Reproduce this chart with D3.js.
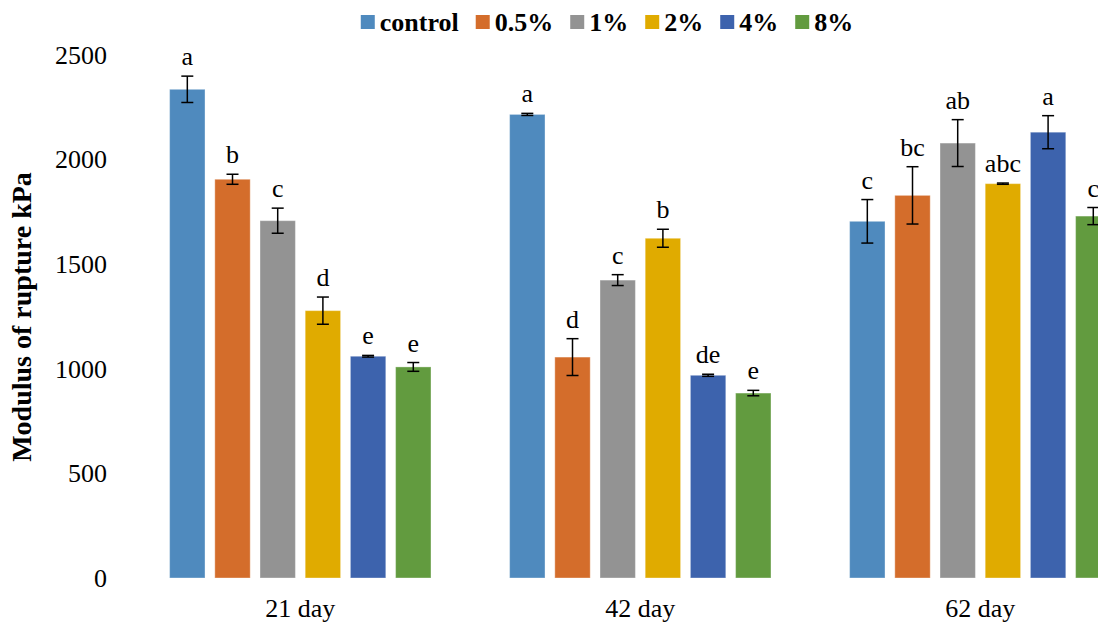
<!DOCTYPE html>
<html>
<head>
<meta charset="utf-8">
<script src="https://cdn.jsdelivr.net/npm/d3@7"></script>
<style>
  html, body { margin: 0; padding: 0; background: #fff; }
  svg { display: block; }
  text { font-family: "Liberation Serif", "Times New Roman", serif; fill: #000; }
</style>
</head>
<body>
<svg id="chart" width="1098" height="626"></svg>
<script>
// ---- data ----
const days = ["21 day", "42 day", "62 day"];
const seriesNames = ["control", "0.5%", "1%", "2%", "4%", "8%"];
const seriesColors = ["#4F8ABE", "#D46D2B", "#939393", "#E0AB00", "#3D63AD", "#629B3F"];

const controlValues = [2336, 2216, 1705];
const p05Values     = [1906, 1056, 1829];
const p1Values      = [1708, 1424, 2079];
const p2Values      = [1278, 1624, 1885];
const p4Values      = [1060,  969, 2131];
const p8Values      = [1009,  884, 1730];

const controlErr = [63,  5, 104];
const p05Err     = [24, 88, 137];
const p1Err      = [60, 26, 112];
const p2Err      = [65, 43,   3];
const p4Err      = [ 4,  5,  79];
const p8Err      = [21, 13,  41];

const controlLetters = ["a", "a", "c"];
const p05Letters     = ["b", "d", "bc"];
const p1Letters      = ["c", "c", "ab"];
const p2Letters      = ["d", "b", "abc"];
const p4Letters      = ["e", "de", "a"];
const p8Letters      = ["e", "e", "c"];

const yTicks = [0, 500, 1000, 1500, 2000, 2500];
const yTitle = "Modulus of rupture kPa";

// ---- assemble ----
const valuesBySeries = [controlValues, p05Values, p1Values, p2Values, p4Values, p8Values];
const errBySeries = [controlErr, p05Err, p1Err, p2Err, p4Err, p8Err];
const lettersBySeries = [controlLetters, p05Letters, p1Letters, p2Letters, p4Letters, p8Letters];

const rows = [];
days.forEach((d, di) => {
  seriesNames.forEach((s, si) => {
    rows.push({ day: d, series: s, si, value: valuesBySeries[si][di],
                err: errBySeries[si][di], letter: lettersBySeries[si][di] });
  });
});

const FONT = "'Liberation Serif', 'Times New Roman', serif";
const svg = d3.select("#chart");
const plotTop = 55, plotBottom = 578;

const x0 = d3.scaleBand().domain(days).range([130.3, 1150.3]).padding(0);
const x1 = d3.scaleBand().domain(seriesNames).range([0, x0.bandwidth()])
  .paddingInner(0.217).paddingOuter(0.87);
const y = d3.scaleLinear().domain([0, 2500]).range([plotBottom, plotTop]);
const color = d3.scaleOrdinal().domain(seriesNames).range(seriesColors);

// y axis
const yAxis = svg.append("g").attr("transform", "translate(107,0)")
  .call(d3.axisLeft(y).tickValues(yTicks).tickSize(0).tickPadding(0).tickFormat(d3.format("d")));
yAxis.attr("font-family", FONT);
yAxis.select(".domain").remove();
yAxis.selectAll("text").style("font-size", "26px").style("font-family", FONT);

// x axis
const xAxis = svg.append("g").attr("transform", `translate(0,${plotBottom})`)
  .call(d3.axisBottom(x0).tickSize(0).tickPadding(21));
xAxis.attr("font-family", FONT);
xAxis.select(".domain").remove();
xAxis.selectAll("text").style("font-size", "26px").style("font-family", FONT);

// bars
const bars = svg.append("g");
bars.selectAll("rect").data(rows).join("rect")
  .attr("x", d => x0(d.day) + x1(d.series))
  .attr("y", d => y(d.value))
  .attr("width", x1.bandwidth())
  .attr("height", d => y(0) - y(d.value))
  .attr("fill", d => color(d.series))
  .attr("stroke", "rgba(255,255,255,0.35)")
  .attr("stroke-width", 1);

// error bars
const capW = 12;
const eb = svg.append("g").attr("stroke", "#000").attr("stroke-width", 1.5).attr("fill", "none");
rows.forEach(d => {
  const cx = x0(d.day) + x1(d.series) + x1.bandwidth() / 2;
  const yt = y(d.value + d.err), yb = y(d.value - d.err);
  eb.append("line").attr("x1", cx).attr("x2", cx).attr("y1", yt).attr("y2", yb);
  eb.append("line").attr("x1", cx - capW / 2).attr("x2", cx + capW / 2).attr("y1", yt).attr("y2", yt);
  eb.append("line").attr("x1", cx - capW / 2).attr("x2", cx + capW / 2).attr("y1", yb).attr("y2", yb);
});

// letters
svg.append("g").selectAll("text").data(rows).join("text")
  .attr("x", d => x0(d.day) + x1(d.series) + x1.bandwidth() / 2)
  .attr("y", d => y(d.value + d.err) - 11)
  .attr("text-anchor", "middle")
  .style("font-family", FONT)
  .style("font-size", "26px")
  .text(d => d.letter);

// y title
svg.append("text")
  .attr("transform", "translate(31,317) rotate(-90)")
  .attr("text-anchor", "middle")
  .style("font-family", FONT)
  .style("font-size", "28px")
  .style("font-weight", "bold")
  .text(yTitle);

// legend
const legend = svg.append("g");
const sq = 14, gapSqText = 5, gapItems = 17, legendCenter = 607, legendY = 22;
const items = legend.selectAll("g").data(seriesNames).join("g");
items.append("rect").attr("width", sq).attr("height", sq).attr("y", legendY - sq / 2)
  .attr("fill", d => color(d));
items.append("text").attr("x", sq + gapSqText).attr("y", legendY + 9)
  .style("font-family", FONT)
  .style("font-size", "26px").style("font-weight", "bold").text(d => d);
let widths = [];
items.each(function () {
  widths.push(sq + gapSqText + d3.select(this).select("text").node().getComputedTextLength());
});
const total = d3.sum(widths) + gapItems * (widths.length - 1);
let cur = legendCenter - total / 2;
items.each(function (d, i) {
  d3.select(this).attr("transform", `translate(${cur},0)`);
  cur += widths[i] + gapItems;
});
</script>
</body>
</html>
